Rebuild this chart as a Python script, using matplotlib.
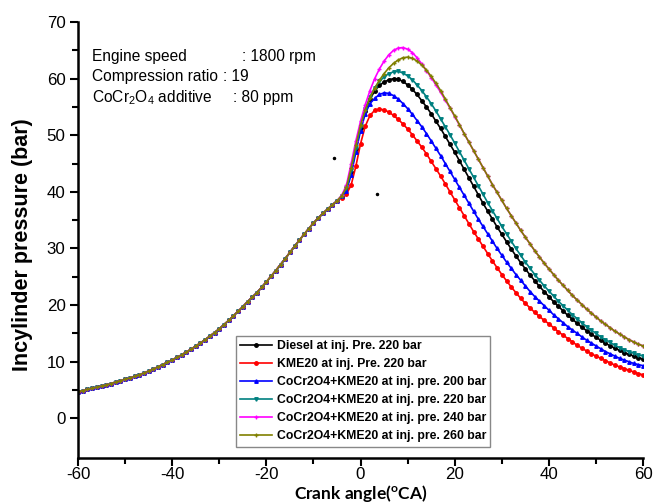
import matplotlib
matplotlib.use('Agg')
import matplotlib.pyplot as plt

# Crank angle axis (deg CA), one reading per degree
crank_angle = list(range(-60, 61))

# Compression stroke, same for every fuel (-60 .. -5 deg)
compression = [4.7, 4.9, 5.1, 5.3, 5.5, 5.7, 5.9, 6.15, 6.4, 6.65,
               6.9, 7.15, 7.4, 7.7, 8.0, 8.35, 8.7, 9.1, 9.5, 9.9,
               10.3, 10.75, 11.2, 11.7, 12.2, 12.75, 13.3, 13.9, 14.5, 15.15,
               15.8, 16.55, 17.3, 18.1, 18.9, 19.7, 20.6, 21.4, 22.2, 23.15,
               24.1, 25.1, 26.1, 27.15, 28.2, 29.3, 30.4, 31.45, 32.5, 33.5,
               34.5, 35.35, 36.2, 36.95, 37.7, 38.4]

# Combustion + expansion (-4 .. 60 deg)
diesel_220 = [39.3, 40.5, 43.5, 47.5, 51.3, 54.3, 56.4, 57.8, 58.8, 59.4,
              59.8, 60.0, 59.9, 59.5, 58.9, 58.1, 57.2, 56.1, 55.0, 53.8,
              52.5, 51.2, 49.8, 48.4, 47.0, 45.5, 44.0, 42.5, 41.0, 39.5,
              38.0, 36.6, 35.2, 33.8, 32.5, 31.2, 29.9, 28.7, 27.5, 26.4,
              25.3, 24.3, 23.3, 22.4, 21.5, 20.6, 19.8, 19.0, 18.2, 17.5,
              16.8, 16.1, 15.5, 14.9, 14.3, 13.8, 13.3, 12.8, 12.4, 12.0,
              11.6, 11.3, 11.0, 10.7, 10.5]
kme20_220 = [39.0, 39.6, 41.2, 44.5, 48.5, 51.6, 53.5, 54.4, 54.6, 54.5,
             54.1, 53.5, 52.8, 52.0, 51.1, 50.1, 49.0, 47.9, 46.7, 45.4,
             44.1, 42.8, 41.4, 40.0, 38.6, 37.2, 35.8, 34.4, 33.0, 31.7,
             30.4, 29.1, 27.8, 26.6, 25.4, 24.3, 23.2, 22.2, 21.2, 20.3,
             19.5, 18.7, 18.0, 17.3, 16.7, 16.0, 15.3, 14.7, 14.1, 13.5,
             12.9, 12.4, 11.9, 11.4, 11.0, 10.6, 10.2, 9.8, 9.4, 9.1,
             8.8, 8.5, 8.2, 7.9, 7.7]
cocr_200 = [39.2, 40.2, 43.0, 47.0, 50.8, 53.8, 55.6, 56.5, 57.2, 57.5,
            57.4, 57.0, 56.4, 55.6, 54.7, 53.7, 52.6, 51.5, 50.3, 49.0,
            47.7, 46.4, 45.0, 43.6, 42.2, 40.8, 39.4, 38.0, 36.6, 35.2,
            33.9, 32.6, 31.3, 30.0, 28.8, 27.6, 26.5, 25.4, 24.4, 23.4,
            22.4, 21.5, 20.7, 19.9, 19.1, 18.3, 17.6, 16.9, 16.2, 15.6,
            15.0, 14.4, 13.8, 13.3, 12.8, 12.3, 11.8, 11.4, 11.0, 10.6,
            10.3, 10.0, 9.7, 9.5, 9.3]
cocr_220 = [39.3, 40.6, 43.8, 47.8, 51.6, 54.6, 56.8, 58.4, 59.5, 60.3,
            60.9, 61.2, 61.3, 61.0, 60.5, 59.8, 58.9, 57.9, 56.8, 55.6,
            54.3, 52.9, 51.5, 50.1, 48.6, 47.1, 45.6, 44.1, 42.6, 41.1,
            39.6, 38.1, 36.7, 35.3, 33.9, 32.6, 31.3, 30.0, 28.8, 27.6,
            26.5, 25.4, 24.4, 23.4, 22.5, 21.6, 20.7, 19.9, 19.1, 18.3,
            17.6, 16.9, 16.2, 15.6, 15.0, 14.4, 13.9, 13.4, 12.9, 12.5,
            12.1, 11.8, 11.5, 11.2, 11.0]
cocr_240 = [39.4, 41.2, 45.0, 49.0, 52.5, 55.4, 57.9, 60.0, 61.7, 63.1,
            64.2, 65.0, 65.4, 65.5, 65.2, 64.6, 63.7, 62.6, 61.4, 60.2,
            58.9, 57.6, 56.2, 54.8, 53.3, 51.8, 50.3, 48.8, 47.3, 45.8,
            44.3, 42.8, 41.3, 39.9, 38.5, 37.1, 35.8, 34.5, 33.2, 32.0,
            30.8, 29.6, 28.5, 27.4, 26.4, 25.4, 24.4, 23.5, 22.6, 21.7,
            20.9, 20.1, 19.3, 18.6, 17.9, 17.2, 16.6, 16.0, 15.4, 14.9,
            14.4, 13.9, 13.5, 13.1, 12.8]
cocr_260 = [39.3, 40.8, 44.2, 48.2, 51.8, 54.5, 56.6, 58.3, 59.7, 60.9,
            61.9, 62.7, 63.3, 63.7, 63.8, 63.6, 63.1, 62.4, 61.5, 60.4,
            59.2, 57.9, 56.4, 54.9, 53.4, 51.9, 50.3, 48.8, 47.3, 45.8,
            44.3, 42.8, 41.3, 39.9, 38.5, 37.1, 35.8, 34.5, 33.2, 32.0,
            30.8, 29.6, 28.5, 27.4, 26.4, 25.4, 24.4, 23.5, 22.6, 21.7,
            20.9, 20.1, 19.3, 18.6, 17.9, 17.2, 16.6, 16.0, 15.4, 14.9,
            14.4, 13.9, 13.5, 13.1, 12.8]

series_labels = ['Diesel at inj. Pre. 220 bar',
                 'KME20 at inj. Pre. 220 bar',
                 'CoCr2O4+KME20 at inj. pre. 200 bar',
                 'CoCr2O4+KME20 at inj. pre. 220 bar',
                 'CoCr2O4+KME20 at inj. pre. 240 bar',
                 'CoCr2O4+KME20 at inj. pre. 260 bar']
series_values = [diesel_220, kme20_220, cocr_200, cocr_220, cocr_240, cocr_260]
series_colors = ['black', '#ff0000', '#0000ff', '#008080', '#ff00ff', '#808000']
series_markers = ['o', 'o', '^', 'v', '+', '+']

# two stray dots visible in the original figure
stray_x = [-5.7, 3.5]
stray_y = [45.9, 39.7]

# operating conditions box (label part, value part)
info_names = ['Engine speed', 'Compression ratio', 'CoCr$_2$O$_4$ additive']
info_values = [': 1800 rpm', ': 19', ': 80 ppm']

plt.rcParams['font.family'] = ['Liberation Sans', 'DejaVu Sans']
plt.rcParams['axes.unicode_minus'] = False
plt.rcParams['mathtext.fontset'] = 'custom'
plt.rcParams['mathtext.rm'] = 'Liberation Sans'
plt.rcParams['mathtext.bf'] = 'Lato:bold'

fig = plt.figure(figsize=(6.54, 5.04), dpi=100)
ax = fig.add_axes([0.1193, 0.0913, 0.864, 0.865])

for label, vals, color, marker in zip(series_labels, series_values, series_colors, series_markers):
    ax.plot(crank_angle, compression + vals, color=color, marker=marker,
            markersize=2.5, linewidth=1.2, label=label)

ax.plot(stray_x, stray_y, linestyle='none', marker='o', markersize=1.5, color='black')

ax.set_xlim(-60, 60)
ax.set_ylim(-7, 70)
ax.set_xticks(range(-60, 61, 20))
ax.set_xticks(range(-50, 60, 20), minor=True)
ax.set_yticks(range(0, 71, 10))
ax.set_yticks(range(5, 70, 10), minor=True)
ax.tick_params(axis='both', which='major', direction='out', length=5.5, width=1.5, labelsize=12.2)
ax.tick_params(axis='x', which='major', pad=1)
ax.tick_params(axis='both', which='minor', direction='out', length=4, width=1.5)

ax.spines['top'].set_visible(False)
ax.spines['right'].set_visible(False)
ax.spines['left'].set_linewidth(1.8)
ax.spines['bottom'].set_linewidth(1.8)

ax.set_xlabel('Crank angle($\\mathbf{^{o}}$CA)', fontfamily='Lato', fontweight='bold',
              fontsize=12.5, va='bottom')
ax.xaxis.set_label_coords(0.5, -0.1062)
ax.set_ylabel('Incylinder pressure (bar)', fontweight='bold', fontsize=15.5)
ax.yaxis.set_label_coords(-0.079, 0.49)

info_y = [0.9116, 0.8637, 0.8162]
value_x = [0.29, 0.256, 0.274]
for name, value, y, vx in zip(info_names, info_values, info_y, value_x):
    ax.text(0.0243, y, name, transform=ax.transAxes, fontsize=11.2, va='baseline')
    ax.text(vx, y, value, transform=ax.transAxes, fontsize=11.2, va='baseline')

leg = ax.legend(loc='lower left', bbox_to_anchor=(0.279, 0.026), borderaxespad=0,
                prop={'weight': 'bold', 'size': 8.8}, fancybox=False, framealpha=1,
                edgecolor='#888888', handlelength=2.6, handletextpad=0.4,
                labelspacing=0.5, borderpad=0.35)
leg.get_frame().set_linewidth(1.0)

fig.savefig('out.png', dpi=100)
